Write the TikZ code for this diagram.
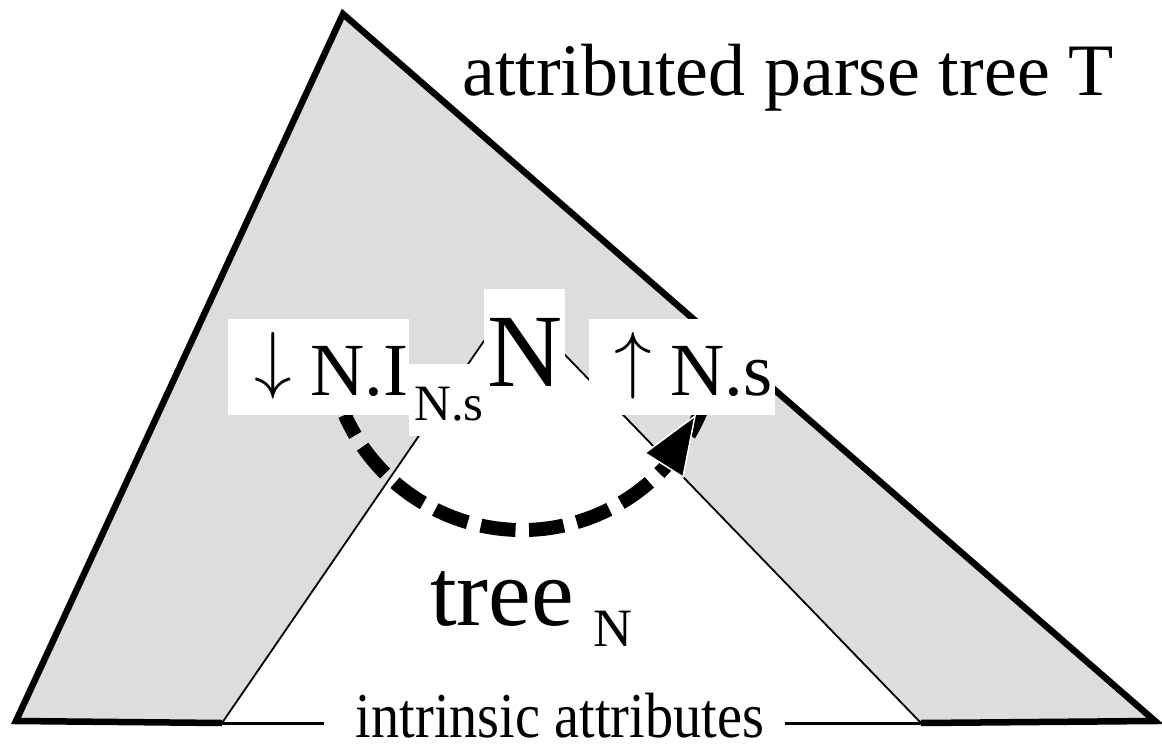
\RequirePackage{fix-cm}
\documentclass[tikz,border=0pt]{standalone}
\usepackage{fontspec}
\setmainfont{Liberation Serif}
\usetikzlibrary{arrows.meta}
\definecolor{treegray}{RGB}{221,221,221}
\newcommand\fsz[1]{\fontsize{#1pt}{#1pt}\selectfont}
\newcommand\upar{\raisebox{11pt}{$\uparrow$}}
\newcommand\downar{\raisebox{11pt}{$\downarrow$}}
\begin{document}
\begin{tikzpicture}[x=1pt,y=1pt,
  wbox/.style={fill=white, draw=none, inner sep=0pt, anchor=north west},
  lbl/.style={inner sep=0pt, anchor=base west},
  thick edge/.style={line width=6.5pt, line join=miter, line cap=butt},
  thin edge/.style={line width=1.8pt},
  flow/.style={line width=14pt, line cap=butt, dash pattern=on 35pt off 13.5pt, dash phase=12pt}]
\useasboundingbox (0,0) rectangle (1162,-744);
% geometry
\coordinate (A) at (343,-14);
\coordinate (BL) at (16,-721);
\coordinate (BR) at (1155,-721);
\coordinate (IA) at (512,-300);
\coordinate (IL) at (222,-723);
\coordinate (IR) at (921,-723);
\coordinate (gapL) at (324,-723);
\coordinate (gapR) at (785,-723);
% shaded tree and white subtree
\fill[treegray] (BL) -- (A) -- (BR) -- cycle;
\fill[white] (IL) -- (IA) -- (IR) -- cycle;
\draw[thin edge] (IL) -- (IA) -- (IR);
\draw[line width=3pt] (IL) -- (gapL) (gapR) -- (IR);
\draw[thick edge] (IL) -- (BL) -- (A) -- (BR) -- (IR);
% dashed dependency arc
\coordinate (arcstart) at (344.8,-414.9);
\draw[flow] (arcstart) arc[start angle=204, end angle=338, radius=194];
\coordinate (tipL) at (645,-453);
\coordinate (tipR) at (683,-477);
\coordinate (tip) at (695,-416);
\filldraw[fill=black, draw=white, line width=1.5pt, line join=miter] (tipL) -- (tip) -- (tipR) -- cycle;
% white label boxes
\node[wbox, minimum width=181pt, minimum height=96pt] (nibox) at (228,-319) {};
\node[wbox, minimum width=80pt, minimum height=72pt] (subbox) at (409,-364) {};
\node[wbox, minimum width=81pt, minimum height=100pt] (nbox) at (484,-289) {};
\node[wbox, minimum width=186pt, minimum height=96pt] (upbox) at (589,-319) {};
% texts
\node[lbl] (title) at (462,-95) {\fsz{74}attributed parse tree T};
\node[lbl] (ni) at (254,-395) {\fsz{75}\downar{} N.I};
\node[lbl] (nisub) at (414,-420) {\fsz{51}N.s};
\node[lbl] (nbig) at (487,-386) {\fsz{104}N};
\node[lbl] (ns) at (614,-395) {\fsz{75}\upar{} N.s};
\node[lbl] (tree) at (430,-625) {\fsz{96}tree};
\node[lbl] (treesub) at (593,-646) {\fsz{54}N};
\node[inner sep=0pt, anchor=base] (intr) at (560,-737) {\fsz{64}\scalebox{0.88}[1]{intrinsic attributes}};
\end{tikzpicture}
\end{document}
